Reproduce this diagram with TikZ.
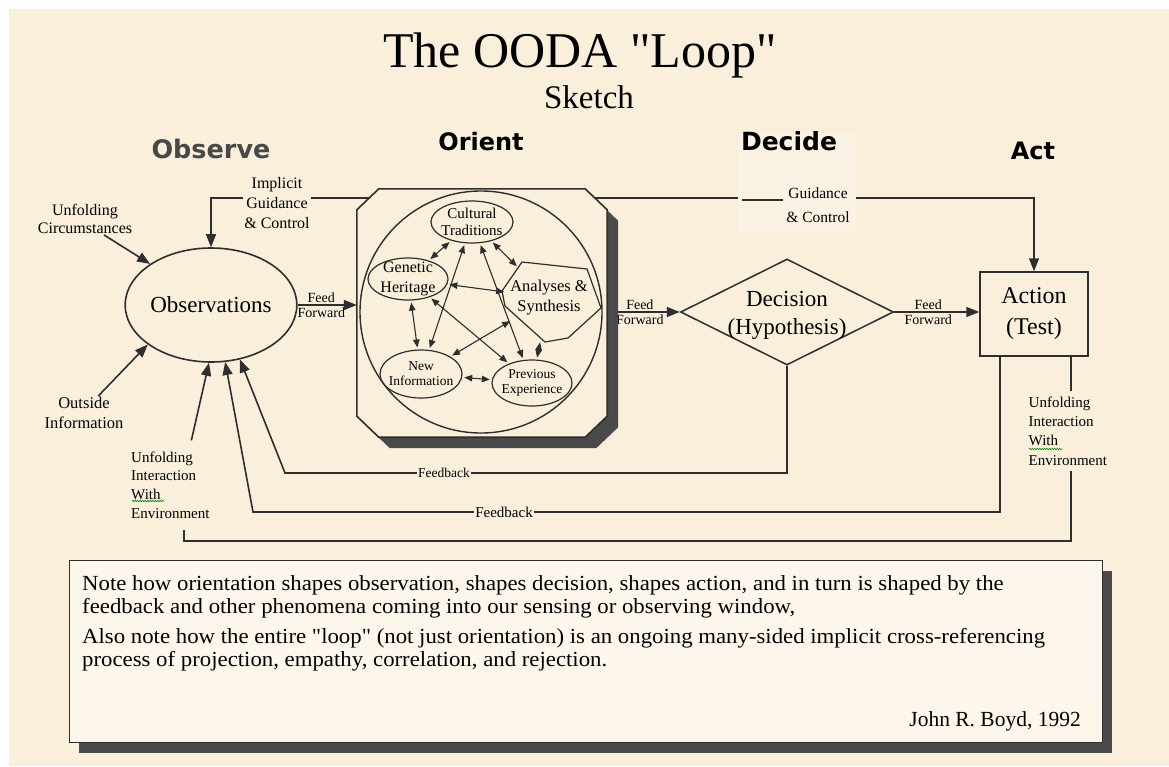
\documentclass[tikz,border=0pt]{standalone}
\usepackage{fontspec}
\setmainfont{Liberation Serif}[Ligatures=TeXOff]
\newfontfamily\headfont{DejaVu Sans}
\usetikzlibrary{arrows.meta,shapes.geometric,shadows,calc,decorations.pathmorphing}

\definecolor{cream}{HTML}{F9EFDB}
\definecolor{creamlight}{HTML}{FAF2E3}
\definecolor{notecream}{HTML}{FCF7EA}
\definecolor{ink}{HTML}{2E2E2E}
\definecolor{shadowgray}{HTML}{4A4A4A}
\definecolor{obsgray}{HTML}{484848}

\newcommand{\fsz}[2]{\fontsize{#1}{#2}\selectfont}

\begin{document}
\begin{tikzpicture}[x=1pt,y=-1pt,
    wire/.style={draw=ink, line width=1.6pt},
    arr/.style={-{Triangle[length=13pt,width=10pt]}},
    twoway/.style={draw=ink, line width=1.1pt, {Triangle[length=8pt,width=6.5pt]}-{Triangle[length=8pt,width=6.5pt]}, shorten <=2pt, shorten >=2pt},
    lbl/.style={align=center, inner sep=1pt},
    gap/.style={fill=cream, inner sep=1.5pt},
    ff/.style={font=\fsz{14}{14}, inner sep=1.5pt},
    phase/.style={font=\headfont\bfseries\fsz{24}{24}, anchor=base},
    sub/.style={ellipse, draw=ink, line width=1.2pt, inner sep=-6pt, align=center},
    notetxt/.style={font=\fsz{21.5}{21.5}, anchor=base west, inner sep=0}]

    % page
    \fill[white] (0,0) rectangle (1169,766);
    \fill[cream] (9,9) rectangle (1169,766);
    \useasboundingbox (0,0) rectangle (1169,766);

    % main blocks
    \node[ellipse, draw=ink, line width=1.6pt, minimum width=142pt, minimum height=114pt, inner sep=0, font=\fsz{23}{23}] (obs) at (211,305) {Observations};
    \node[minimum width=250pt, minimum height=248pt, inner sep=0] (ori) at (482,313) {};
    \node[diamond, draw=ink, line width=1.5pt, minimum width=213pt, minimum height=106pt, inner sep=0] (dec) at (787,312) {};
    \node[font=\fsz{23}{28}, align=center, inner sep=0] (dectxt) at (787,315) {Decision\\(Hypothesis)};
    \node[draw=ink, line width=1.5pt, minimum width=108pt, minimum height=84pt, font=\fsz{24}{31}, align=center] (act) at (1034,314) {Action\\(Test)};

    % guidance & control from orient
    \coordinate (gtop) at ($(ori.north)+(0,9)$);
    \draw[wire, arr] (gtop) -| (obs.north);
    \draw[wire, arr] (gtop) -| (act.north);

    % feed forward
    \draw[wire, arr] (obs.east) -- (obs.east -| ori.west)
        node[ff, pos=0.4, above] (ff1) {Feed} node[ff, pos=0.4, below] (ff2) {Forward};
    \draw[wire, arr, shorten <=10pt] (ori.east |- dec.west) -- (dec.west)
        node[ff, pos=0.45, above] (ff3) {Feed} node[ff, pos=0.45, below] (ff4) {Forward};
    \draw[wire, arr] (dec.east) -- (act.west |- dec.east)
        node[ff, pos=0.4, above] (ff5) {Feed} node[ff, pos=0.4, below] (ff6) {Forward};

    % orient box
    \filldraw[fill=cream, draw=ink, line width=1.6pt,
        drop shadow={shadow xshift=11pt, shadow yshift=-11pt, opacity=1, fill=shadowgray}]
        ($(ori.north west)+(22,0)$) -- ($(ori.north east)+(-22,0)$) -- ($(ori.north east)+(0,21)$)
        -- ($(ori.south east)+(0,-21)$) -- ($(ori.south east)+(-22,0)$) -- ($(ori.south west)+(22,0)$)
        -- ($(ori.south west)+(0,-21)$) -- ($(ori.north west)+(0,21)$) -- cycle;
    \node[circle, draw=ink, line width=1.4pt, minimum size=242pt] (world) at (481,312) {};
    \node[sub, minimum width=82pt, minimum height=42pt, font=\fsz{15}{17}] (cult) at (472,222) {Cultural\\Traditions};
    \node[sub, minimum width=80pt, minimum height=42pt, font=\fsz{16}{20}] (gene) at (408,279) {Genetic\\Heritage};
    \node[sub, minimum width=82pt, minimum height=48pt, font=\fsz{13.5}{15}] (newi) at (421,374) {New\\Information};
    \node[sub, minimum width=80pt, minimum height=46pt, font=\fsz{13.5}{15}] (prev) at (532,383) {Previous\\Experience};
    \node[circle, minimum size=86pt, inner sep=0, align=center, font=\fsz{16.5}{20}] (anal) at (549,298) {Analyses \&\\Synthesis};
    \draw[ink, line width=1.2pt] ($(anal)+(-27,-36)$) -- ($(anal)+(38,-29)$) -- ($(anal)+(52,10)$)
        -- ($(anal)+(19,40)$) -- ($(anal)+(-4,44)$) -- ($(anal)+(-44,8)$) -- ($(anal)+(-47,-7)$) -- cycle;
    \foreach \a/\b in {cult/gene, cult/anal, gene/anal, gene/newi, anal/prev,
                       newi/prev, cult/newi, cult/prev, gene/prev, anal/newi}
        \draw[twoway] (\a) -- (\b);

    % light patch behind Decide
    \fill[creamlight] (738,133) rectangle (856,232);
    \draw[ink, line width=1.3pt] (742,200) -- (783,200);
    \node[lbl, font=\fsz{15.5}{24}] (guid) at (818,205) {Guidance\\\& Control};
    \node[lbl, gap, font=\fsz{16}{20}] (impl) at (277,203) {Implicit\\Guidance\\\& Control};

    % titles
    \node[anchor=base, font=\fsz{50}{50}] (title) at (580,67) {The OODA "Loop"};
    \node[anchor=base, font=\fsz{33}{33}] (sketch) at (589,108) {Sketch};
    \node[phase, text=obsgray, font=\headfont\bfseries\fsz{25.5}{25.5}] (hobs) at (211,158) {Observe};
    \node[phase] (hori) at (481,150) {Orient};
    \node[phase, font=\headfont\bfseries\fsz{25}{25}] (hdec) at (789,150) {Decide};
    \node[phase] (hact) at (1033,159) {Act};

    % outside inputs
    \node[lbl, font=\fsz{16}{18}] (unc) at (85,219) {Unfolding\\Circumstances};
    \node[lbl, font=\fsz{16.5}{20}] (outi) at (84,413) {Outside\\Information};
    \node[lbl, align=left, anchor=west, font=\fsz{15}{18.7}] (envl) at (130,485) {Unfolding\\Interaction\\With\\Environment};
    \draw[wire, arr] (unc.-40) -- (obs.146);
    \draw[wire, arr] (outi.50) -- (obs.-148);
    \draw[wire, arr] ([xshift=21pt,yshift=10pt]envl.north) -- (obs.-92);

    % feedback loops
    \coordinate (fb1) at (285,473);
    \coordinate (fb2) at (253,512);
    \coordinate (loopend) at (184,541);
    \draw[wire, arr] (dec.south) |- (fb1) -- (obs.-62);
    \draw[wire, arr] ([xshift=-34pt]act.south) |- (fb2) -- (obs.-76);
    \draw[wire] ([xshift=37pt]act.south) |- (loopend) -- ++(0,-11);
    \node[gap, font=\fsz{13.5}{14}] (fbk1) at (444,473) {Feedback};
    \node[gap, font=\fsz{15}{15}] (fbk2) at (504,512) {Feedback};
    \node[lbl, gap, align=left, anchor=west, inner ysep=6pt, font=\fsz{15}{19.3}] (envr) at (1027,431) {Unfolding\\Interaction\\With\\Environment};
    \draw[green!55!black, line width=0.6pt, decorate, decoration={snake, amplitude=0.7pt, segment length=2.5pt}] (132,501) -- (164,501);
    \draw[green!55!black, line width=0.6pt, decorate, decoration={snake, amplitude=0.7pt, segment length=2.5pt}] (1029,449) -- (1062,449);

    % note
    \node[draw=ink, line width=1pt, fill=notecream, minimum width=1033pt, minimum height=182pt, inner sep=0,
        drop shadow={shadow xshift=10pt, shadow yshift=-11pt, opacity=1, fill=shadowgray}] (note) at (585.5,651) {};
    \node[notetxt] (note1) at (82,590) {\scalebox{1.06}[1]{Note how orientation shapes observation, shapes decision, shapes action, and in turn is shaped by the}};
    \node[notetxt] (note2) at (82,613) {\scalebox{1.06}[1]{feedback and other phenomena coming into our sensing or observing window,}};
    \node[notetxt] (note3) at (82,643) {\scalebox{1.06}[1]{Also note how the entire "loop" (not just orientation) is an ongoing many-sided implicit cross-referencing}};
    \node[notetxt] (note4) at (82,666) {\scalebox{1.06}[1]{process of projection, empathy, correlation, and rejection.}};
    \node[font=\fsz{21.5}{21.5}, anchor=base east, inner sep=0] (boyd) at (1081,726) {John R. Boyd, 1992};
\end{tikzpicture}
\end{document}
